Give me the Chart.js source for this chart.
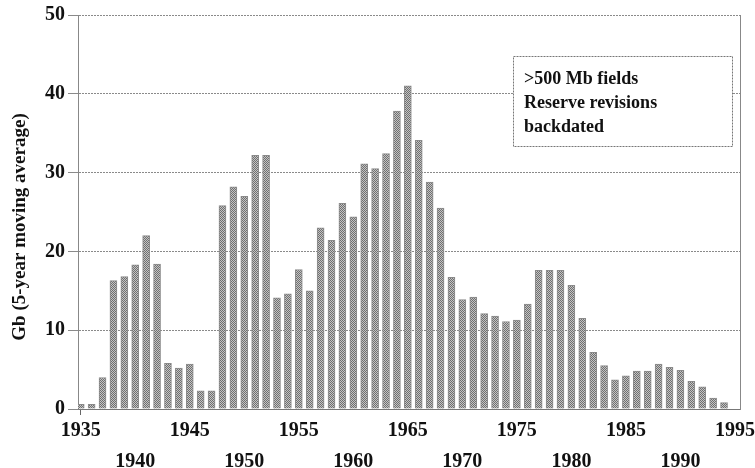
<!DOCTYPE html>
<html>
<head>
<meta charset="utf-8">
<script src="https://cdn.jsdelivr.net/npm/chart.js@4/dist/chart.umd.min.js"></script>
<style>
  html, body { margin: 0; padding: 0; background: #fff; }
  #wrap { width: 755px; height: 468px; }
</style>
</head>
<body>
<div id="wrap"><canvas id="chart" width="755" height="468"></canvas></div>
<script>
// Data
const years = [];
for (let y = 1935; y <= 1994; y++) years.push(y);
const gbValues = [
  0.6, 0.6, 4.0, 16.3, 16.8, 18.3, 22.0, 18.4, 5.8, 5.2,
  5.7, 2.3, 2.3, 25.8, 28.2, 27.0, 32.2, 32.2, 14.1, 14.6,
  17.7, 15.0, 23.0, 21.4, 26.1, 24.4, 31.1, 30.5, 32.4, 37.8,
  41.0, 34.1, 28.8, 25.5, 16.7, 13.9, 14.2, 12.1, 11.8, 11.1,
  11.3, 13.3, 17.6, 17.6, 17.6, 15.7, 11.5, 7.2, 5.5, 3.7,
  4.2, 4.8, 4.8, 5.7, 5.3, 4.9, 3.5, 2.8, 1.4, 0.8
];
const yTicks = [0, 10, 20, 30, 40, 50];
const xTickYears = [1935, 1940, 1945, 1950, 1955, 1960, 1965, 1970, 1975, 1980, 1985, 1990, 1995];
const yTitle = 'Gb (5-year moving average)';
const noteLines = ['>500 Mb fields', 'Reserve revisions', 'backdated'];

const SERIF = "'Liberation Serif', 'DejaVu Serif', serif";

// stippled grey fill like the printed bars
function makePattern() {
  const c = document.createElement('canvas');
  c.width = 2; c.height = 2;
  const g = c.getContext('2d');
  g.fillStyle = '#c4c4c4'; g.fillRect(0, 0, 2, 2);
  g.fillStyle = '#6f6f6f'; g.fillRect(0, 0, 1, 1); g.fillRect(1, 1, 1, 1);
  return g.createPattern(c, 'repeat');
}

// y axis title + boxed note
const extras = {
  id: 'extras',
  afterDraw(chart) {
    const ctx = chart.ctx;
    ctx.save();
    ctx.fillStyle = '#111';
    ctx.font = 'bold 19px ' + SERIF;
    ctx.textAlign = 'center';
    ctx.textBaseline = 'middle';
    ctx.translate(20, 227);
    ctx.rotate(-Math.PI / 2);
    ctx.fillText(yTitle, 0, 0);
    ctx.restore();

    ctx.save();
    const bx = 513, by = 56, bw = 219, bh = 90;
    ctx.fillStyle = '#fff';
    ctx.fillRect(bx, by, bw, bh);
    ctx.strokeStyle = '#777';
    ctx.setLineDash([2, 1]);
    ctx.lineWidth = 1;
    ctx.strokeRect(bx + 0.5, by + 0.5, bw, bh);
    ctx.setLineDash([]);
    ctx.fillStyle = '#111';
    ctx.font = 'bold 18px ' + SERIF;
    ctx.textAlign = 'left';
    ctx.textBaseline = 'alphabetic';
    noteLines.forEach((t, i) => ctx.fillText(t, 524, 84 + i * 24));
    ctx.restore();
  }
};

const ctx = document.getElementById('chart').getContext('2d');
new Chart(ctx, {
  type: 'bar',
  data: {
    datasets: [{
      data: years.map((yr, i) => ({ x: yr, y: gbValues[i] })),
      backgroundColor: makePattern(),
      borderColor: '#8a8a8a',
      borderWidth: 1,
      barThickness: 7
    }]
  },
  options: {
    responsive: false,
    animation: false,
    layout: { autoPadding: false, padding: { top: 14, left: 0, right: 0, bottom: 0 } },
    plugins: { legend: { display: false }, tooltip: { enabled: false } },
    scales: {
      x: {
        type: 'linear',
        offset: false,
        min: 1934.75,
        max: 1995.55,
        afterBuildTicks: s => { s.ticks = xTickYears.map(v => ({ value: v })); },
        afterFit: s => { s.height = 59; },
        grid: {
          offset: false,
          drawOnChartArea: false,
          drawTicks: true,
          tickLength: 6,
          color: c => (c.tick && c.tick.value === 1935) ? '#666' : 'rgba(0,0,0,0)'
        },
        border: { display: true, color: '#777', dash: [2, 1] },
        ticks: {
          autoSkip: false,
          maxRotation: 0,
          padding: 0,
          color: '#111',
          font: { family: SERIF, size: 20, weight: 'bold', lineHeight: 1.55 },
          callback: v => (v % 10 === 5 ? String(v) : ['', String(v)])
        }
      },
      y: {
        min: 0,
        max: 50,
        afterBuildTicks: s => { s.ticks = yTicks.map(v => ({ value: v })); },
        afterFit: s => { s.width = 78; },
        grid: { color: '#8a8a8a', tickLength: 10, drawTicks: true },
        border: { display: true, color: '#888', dash: [2, 1] },
        ticks: {
          padding: 3,
          color: '#111',
          font: { family: SERIF, size: 20, weight: 'bold' }
        }
      },
      y2: {
        position: 'right',
        min: 0,
        max: 50,
        afterFit: s => { s.width = 7; },
        grid: { drawOnChartArea: false, drawTicks: false },
        border: { display: true, color: '#888', dash: [2, 1] },
        ticks: { display: false }
      }
    }
  },
  plugins: [extras]
});
</script>
</body>
</html>
